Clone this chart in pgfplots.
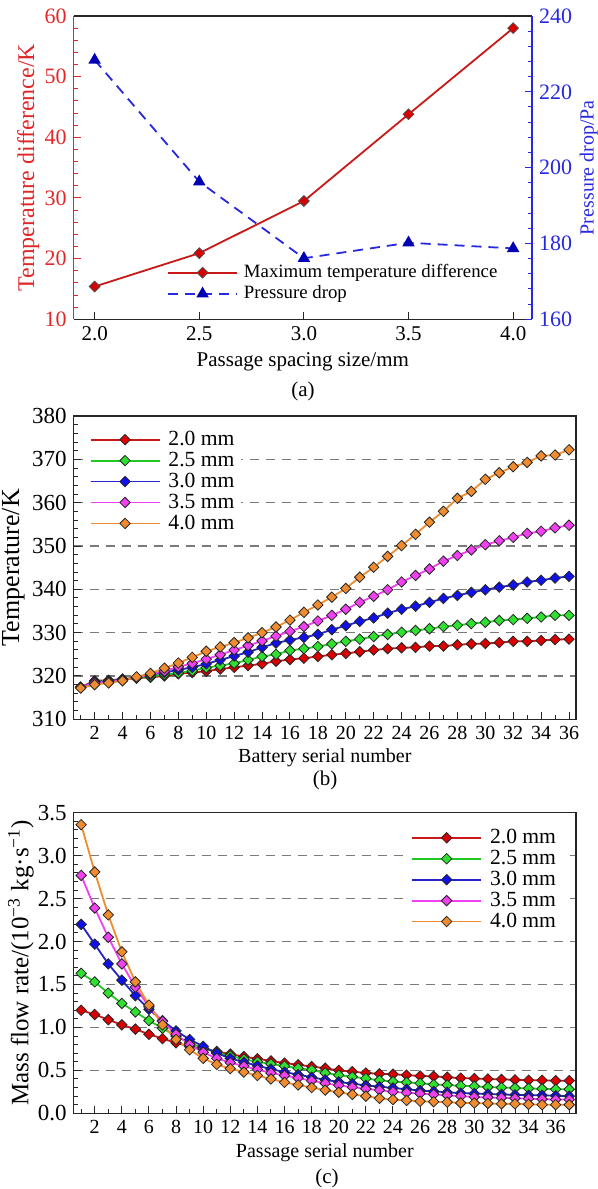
\documentclass[border=0pt]{standalone}
\usepackage{fontspec}
\setmainfont{Liberation Serif}
\usepackage{pgfplots}
\usepackage{pgfplotstable}
\pgfplotsset{compat=1.18}

\definecolor{tdred}{HTML}{E02828}
\definecolor{pdblue}{HTML}{2828E0}
\definecolor{lnred}{HTML}{C81818}
\definecolor{fillred}{HTML}{D80000}
\definecolor{lngreen}{HTML}{22C822}
\definecolor{fillgreen}{HTML}{30E030}
\definecolor{lnblue}{HTML}{2424C8}
\definecolor{fillblue}{HTML}{1010E8}
\definecolor{lnmag}{HTML}{F040F0}
\definecolor{fillmag}{HTML}{F040F0}
\definecolor{lnorange}{HTML}{F08C30}
\definecolor{fillorange}{HTML}{F08C30}
\definecolor{gridgray}{HTML}{7A7A7A}

% (a) maximum temperature difference and pressure drop
\pgfplotstableread{
s    dT    dp
2.0  15.4  228.4
2.5  20.9  196.3
3.0  29.5  176.1
3.5  43.8  180.2
4.0  58.0  178.7
}\spacing

% (b) battery temperature
\pgfplotstableread{
n  a20    a25    a30    a35    a40
1  317.4  317.4  317.4  317.4  317.2
2  318.9  318.7  318.6  318.4  318.0
3  319.0  318.9  318.8  318.7  318.4
4  319.3  319.2  319.2  319.1  318.9
5  319.5  319.5  319.6  319.6  319.8
6  319.7  319.9  320.3  320.4  320.6
7  320.0  320.3  320.8  321.1  321.8
8  320.5  320.7  321.4  322.1  323.0
9  320.8  321.2  322.0  322.9  324.3
10 321.1  321.9  322.8  323.9  325.7
11 321.6  322.4  323.7  324.9  326.7
12 322.0  322.9  324.6  326.0  327.7
13 322.4  323.7  325.5  327.0  328.8
14 322.8  324.5  326.6  328.1  330.0
15 323.4  325.0  327.6  329.2  331.3
16 323.8  325.9  328.3  330.3  332.9
17 324.1  326.3  328.9  331.4  334.7
18 324.5  326.8  329.6  332.7  336.4
19 324.9  327.4  330.7  334.0  338.2
20 325.2  328.0  331.6  335.4  340.2
21 325.6  328.5  332.6  337.0  342.8
22 326.0  329.1  333.4  338.4  345.1
23 326.3  329.6  334.5  339.9  347.6
24 326.5  330.1  335.4  341.7  350.1
25 326.6  330.5  336.1  343.2  352.7
26 326.9  330.9  337.0  344.7  355.5
27 326.9  331.4  337.9  346.5  358.0
28 327.2  331.7  338.6  347.8  361.0
29 327.4  332.1  339.3  349.1  362.6
30 327.5  332.4  339.9  350.3  365.4
31 327.7  332.8  340.5  351.2  366.9
32 328.0  333.0  341.0  352.0  368.3
33 328.0  333.3  341.7  352.9  369.3
34 328.2  333.6  342.1  353.4  370.8
35 328.4  334.0  342.6  354.2  371.0
36 328.5  334.0  343.0  354.8  372.2
}\battery

% (c) mass flow rate per passage
\pgfplotstableread{
n  m20    m25    m30    m35    m40
1  1.20   1.63   2.20   2.77   3.36
2  1.15   1.53   1.97   2.39   2.81
3  1.09   1.40   1.74   2.05   2.31
4  1.03   1.28   1.55   1.74   1.88
5  0.98   1.18   1.37   1.47   1.53
6  0.92   1.08   1.21   1.24   1.26
7  0.87   0.99   1.08   1.07   1.03
8  0.82   0.90   0.96   0.92   0.86
9  0.78   0.82   0.86   0.80   0.74
10 0.75   0.76   0.78   0.71   0.64
11 0.72   0.71   0.70   0.64   0.57
12 0.69   0.67   0.64   0.59   0.52
13 0.66   0.63   0.595  0.55   0.48
14 0.635  0.60   0.555  0.51   0.44
15 0.61   0.575  0.515  0.47   0.40
16 0.585  0.55   0.48   0.44   0.36
17 0.565  0.525  0.45   0.41   0.33
18 0.545  0.505  0.42   0.38   0.30
19 0.525  0.47   0.39   0.35   0.27
20 0.50   0.445  0.365  0.325  0.245
21 0.485  0.425  0.345  0.305  0.22
22 0.47   0.405  0.325  0.285  0.20
23 0.46   0.385  0.31   0.27   0.175
24 0.455  0.37   0.295  0.25   0.16
25 0.445  0.36   0.28   0.24   0.15
26 0.435  0.35   0.265  0.23   0.14
27 0.43   0.335  0.255  0.22   0.135
28 0.42   0.33   0.245  0.21   0.13
29 0.41   0.32   0.235  0.20   0.12
30 0.405  0.315  0.23   0.19   0.12
31 0.40   0.305  0.225  0.185  0.115
32 0.395  0.30   0.22   0.18   0.11
33 0.39   0.295  0.215  0.175  0.11
34 0.385  0.29   0.21   0.17   0.105
35 0.385  0.285  0.21   0.165  0.10
36 0.38   0.28   0.205  0.16   0.10
37 0.38   0.28   0.20   0.16   0.10
}\passage

\pgfplotsset{
  ser/.style 2 args={color=#1, line width=0.9pt, mark=square*, mark size=1.85pt,
    mark options={rotate=45, fill=#2, draw=black!85, line width=0.4pt, solid}},
  longleg/.style={legend image code/.code={%
    \draw[##1, mark repeat=2, mark phase=2] plot coordinates {(0pt,0pt) (17.25pt,0pt) (34.5pt,0pt)};}},
  % rotated y label placed at a fixed offset from the axis box
  ylab at/.style={every axis y label/.style={at={(rel axis cs:#1,0.5)}, rotate=90, anchor=center}},
  xlab at/.style={every axis x label/.style={at={(rel axis cs:0.5,#1)}, anchor=center}},
  panel/.style={
    scale only axis, width=251.15pt,
    axis line style={line width=0.6pt, black!85},
    every tick/.style={black!85, line width=0.5pt},
    major tick length=3.5pt, minor tick length=2pt,
    tick align=inside, xtick pos=bottom, ytick pos=left,
    ymajorgrids, grid style={gridgray, line width=0.75pt, dash pattern=on 4.5pt off 3.5pt},
    yticklabel style={font=\fontsize{11.5}{13}\selectfont},
    xticklabel style={font=\fontsize{10}{12}\selectfont},
    xlabel style={font=\fontsize{10.5}{12}\selectfont},
    /pgf/number format/assume math mode=true,
    xtick={2,4,...,36}, minor xtick={1,3,...,37},
    longleg,
    legend style={draw=none, fill=white, font=\fontsize{10.8}{12}\selectfont,
      row sep=-2.2pt, column sep=2pt, inner sep=1.5pt, legend cell align=left},
  },
}

\begin{document}
\begin{tikzpicture}
\path[use as bounding box] (0,0) rectangle (299pt,-594.5pt);

% ---------- (a) ----------
\begin{axis}[
  scale only axis, width=229.15pt, height=151.65pt,
  at={(36.85pt,-159.65pt)}, anchor=south west,
  xmin=1.9, xmax=4.09, ymin=10, ymax=60,
  axis x line*=bottom, axis y line*=left,
  x axis line style={black!85, line width=0.6pt},
  y axis line style={tdred, line width=0.6pt},
  tick align=inside, major tick length=3.5pt, minor tick length=2pt,
  xtick={2,2.5,3,3.5,4}, xticklabels={2.0,2.5,3.0,3.5,4.0},
  xtick style={black!85, line width=0.5pt},
  ytick={10,20,...,60}, minor y tick num=4,
  ytick style={tdred, line width=0.5pt},
  yticklabel style={tdred, font=\fontsize{11}{13}\selectfont},
  xticklabel style={font=\fontsize{10.5}{12}\selectfont},
  /pgf/number format/assume math mode=true,
  ylab at=-0.099, xlab at=-0.141,
  xlabel style={font=\fontsize{10.5}{12}\selectfont},
  ylabel style={tdred, font=\fontsize{12}{14}\selectfont},
  xlabel={Passage spacing size/mm},
  ylabel={Temperature difference/K},
]
\addplot[color=lnred, line width=0.9pt, mark=square*, mark size=1.9pt,
  mark options={rotate=45, fill=fillred, draw=black!70, line width=0.4pt}]
  table[x=s, y=dT] {\spacing};
\end{axis}

\begin{axis}[
  scale only axis, width=229.15pt, height=151.65pt,
  at={(36.85pt,-159.65pt)}, anchor=south west,
  xmin=1.9, xmax=4.09, ymin=160, ymax=240,
  axis x line*=top, axis y line*=right,
  x axis line style={black!85, line width=0.6pt},
  y axis line style={pdblue, line width=0.6pt},
  xtick=\empty,
  tick align=inside, major tick length=3.5pt, minor tick length=2pt,
  ytick={160,180,...,240}, minor y tick num=4,
  ytick style={pdblue, line width=0.5pt},
  yticklabel style={pdblue, font=\fontsize{11}{13}\selectfont},
  /pgf/number format/assume math mode=true,
  ylab at=1.124,
  ylabel style={pdblue, font=\fontsize{10}{12}\selectfont},
  ylabel={Pressure drop/Pa},
  longleg,
  legend style={draw=none, fill=none, at={(0.19,0.03)}, anchor=south west,
    font=\fontsize{9.4}{11}\selectfont, row sep=-1.5pt, column sep=1pt,
    legend cell align=left},
]
\addlegendimage{color=lnred, line width=0.9pt, mark=square*, mark size=1.9pt,
  mark options={rotate=45, fill=fillred, draw=black!70, line width=0.4pt}}
\addlegendentry{Maximum temperature difference}
\addplot[color=pdblue, line width=0.9pt, dash pattern=on 5pt off 3.5pt,
  mark=triangle*, mark size=2.7pt,
  mark options={solid, fill=blue!70!black, draw=blue!70!black}]
  table[x=s, y=dp] {\spacing};
\addlegendentry{Pressure drop}
\end{axis}
\node[font=\fontsize{10.5}{12}\selectfont] at (151.5pt,-195.5pt) {(a)};

% ---------- (b) ----------
\begin{axis}[
  panel, height=151.65pt,
  at={(36.85pt,-359.65pt)}, anchor=south west,
  xmin=0.5, xmax=36.5, ymin=310, ymax=380,
  ytick={310,320,...,380}, minor y tick num=4,
  ylab at=-0.12, xlab at=-0.128,
  ylabel style={font=\fontsize{13}{15}\selectfont},
  xlabel={Battery serial number},
  ylabel={Temperature/K},
  legend style={at={(0.025,0.975)}, anchor=north west},
]
\addplot[ser={lnred}{fillred}]       table[x=n, y=a20] {\battery};
\addlegendentry{2.0 mm}
\addplot[ser={lngreen}{fillgreen}]   table[x=n, y=a25] {\battery};
\addlegendentry{2.5 mm}
\addplot[ser={lnblue}{fillblue}]     table[x=n, y=a30] {\battery};
\addlegendentry{3.0 mm}
\addplot[ser={lnmag}{fillmag}]       table[x=n, y=a35] {\battery};
\addlegendentry{3.5 mm}
\addplot[ser={lnorange}{fillorange}] table[x=n, y=a40] {\battery};
\addlegendentry{4.0 mm}
\end{axis}
\node[font=\fontsize{10.5}{12}\selectfont] at (162.5pt,-390pt) {(b)};

% ---------- (c) ----------
\begin{axis}[
  panel, height=150.3pt,
  at={(36.85pt,-556.65pt)}, anchor=south west,
  xmin=0.45, xmax=37.5, ymin=0, ymax=3.5,
  ytick={0,0.5,...,3.5}, minor y tick num=4,
  yticklabel style={/pgf/number format/.cd, fixed, fixed zerofill, precision=1},
  ylab at=-0.105, xlab at=-0.132,
  ylabel style={font=\fontsize{12.5}{14}\selectfont},
  xlabel={Passage serial number},
  ylabel={Mass flow rate/(10\textsuperscript{−3} kg·s\textsuperscript{−1})},
  legend style={at={(0.975,0.97)}, anchor=north east},
]
\addplot[ser={lnred}{fillred}]       table[x=n, y=m20] {\passage};
\addlegendentry{2.0 mm}
\addplot[ser={lngreen}{fillgreen}]   table[x=n, y=m25] {\passage};
\addlegendentry{2.5 mm}
\addplot[ser={lnblue}{fillblue}]     table[x=n, y=m30] {\passage};
\addlegendentry{3.0 mm}
\addplot[ser={lnmag}{fillmag}]       table[x=n, y=m35] {\passage};
\addlegendentry{3.5 mm}
\addplot[ser={lnorange}{fillorange}] table[x=n, y=m40] {\passage};
\addlegendentry{4.0 mm}
\end{axis}
\node[font=\fontsize{10.5}{12}\selectfont] at (163.5pt,-589pt) {(c)};
\end{tikzpicture}
\end{document}
